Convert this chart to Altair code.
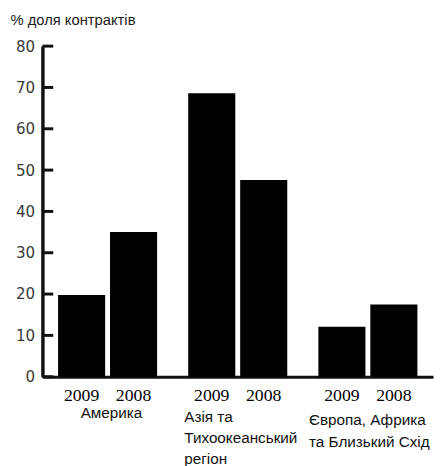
import altair as alt
import pandas as pd

# ---- data ----
groups = ["Америка", "Азія", "Європа"]
group_labels = ["Америка", "Азія та\nТихоокеанський\nрегіон", "Європа, Африка\n\u00a0та Близький Схід"]
years = ["2009", "2008"]
values_2009 = [19.8, 68.6, 12.1]
values_2008 = [35.0, 47.6, 17.5]
y_ticks = [0, 10, 20, 30, 40, 50, 60, 70, 80]
y_title = "% доля контрактів"

rows = []
for g, v9, v8 in zip(groups, values_2009, values_2008):
    rows.append({"group": g, "year": "2009", "value": v9})
    rows.append({"group": g, "year": "2008", "value": v8})
bars_df = pd.DataFrame(rows)
labels_df = pd.DataFrame({"group": groups, "label": group_labels})
ticks_df = pd.DataFrame({"value": y_ticks})

AXIS_COLOR = "#111111"
NARROW = "Liberation Sans Narrow, Arial Narrow, DejaVu Sans Condensed, sans-serif"

x_axis = alt.Axis(labels=False, ticks=False, title=None, domainWidth=3,
                  domainColor=AXIS_COLOR, grid=False)
x_scale = alt.Scale(paddingInner=0.239, paddingOuter=0.12)
y_axis = alt.Axis(values=y_ticks, tickSize=0, domainWidth=3.5, domainColor=AXIS_COLOR,
                  grid=False, labelFont=NARROW, labelFontSize=17,
                  labelColor="#3a3a3a", labelPadding=8,
                  title=y_title, titleAngle=0, titleX=-33, titleY=-22,
                  titleAlign="left", titleBaseline="alphabetic",
                  titleFont="Liberation Sans", titleFontSize=15,
                  titleFontWeight="normal", titleColor="#222222")
y_enc = alt.Y("value:Q", scale=alt.Scale(domain=[0, 80], nice=False), axis=y_axis)
x_enc = alt.X("group:N", sort=groups, scale=x_scale, axis=x_axis)
xoff_enc = alt.XOffset("year:N", sort=years, scale=alt.Scale(paddingInner=0.094, paddingOuter=0))

bars = alt.Chart(bars_df).mark_bar(color="black").encode(
    x=x_enc, xOffset=xoff_enc, y=y_enc
)

year_text = alt.Chart(bars_df).mark_text(
    font="Liberation Serif", fontSize=18, color="black", baseline="alphabetic"
).encode(
    x=x_enc, xOffset=xoff_enc, y=alt.value(361), text="year:N"
)

ticks = alt.Chart(ticks_df).mark_rule(strokeWidth=3, color=AXIS_COLOR).encode(
    y=y_enc, x=alt.value(0), x2=alt.value(11)
)


def group_label(name, align, dx, y, line_height, band_pos):
    return alt.Chart(labels_df).transform_filter(
        alt.datum.group == name
    ).mark_text(
        font="Liberation Sans", fontSize=15.5, color="#111111", align=align,
        baseline="alphabetic", dx=dx, lineBreak="\n", lineHeight=line_height
    ).encode(
        x=alt.X("group:N", sort=groups, scale=x_scale, axis=x_axis, bandPosition=band_pos),
        y=alt.value(y), text="label:N"
    )


lbl_a = group_label("Америка", "center", 4, 378, 21, 0.5)
lbl_b = group_label("Азія", "left", -4, 382.5, 21, 0)
lbl_c = group_label("Європа", "left", -9.5, 385, 22.5, 0)

chart = alt.layer(bars, ticks, year_text, lbl_a, lbl_b, lbl_c).properties(
    width=397, height=336,
    autosize=alt.AutoSizeParams(type="none"),
    padding={"left": 35, "top": 35, "right": 2, "bottom": 87},
).configure_view(stroke=None)

chart.save("out.html", embed_options={"renderer": "svg", "actions": False})
